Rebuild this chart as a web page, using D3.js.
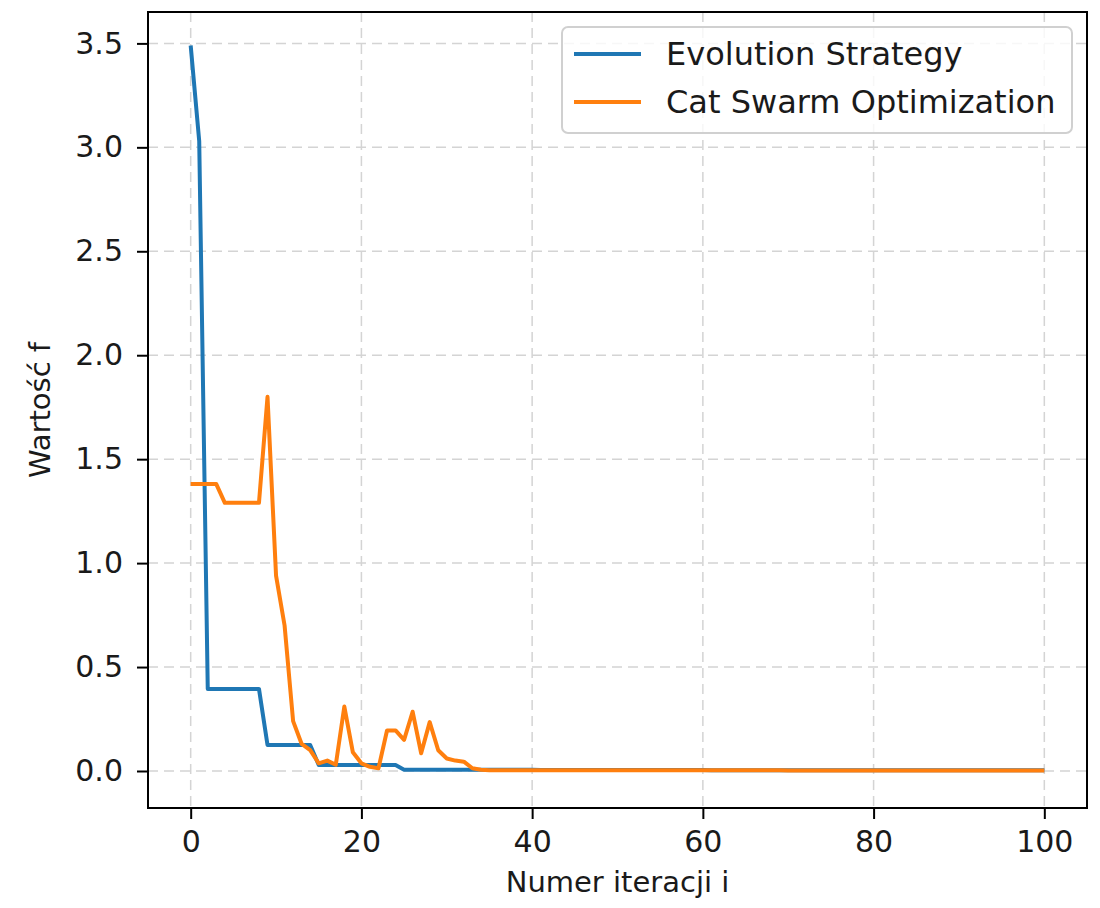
<!DOCTYPE html>
<html lang="pl">
  <head>
    <meta charset="utf-8">
    <script src="https://d3js.org/d3.v7.min.js"></script>
    <style>
body { margin: 0; background: #fff; }
text { font-family: "DejaVu Sans", sans-serif; fill: #1a1a1a; }
.grid line { stroke: #d4d4d4; stroke-width: 1.5px; stroke-dasharray: 10 6; }
.axis path { display: none; }
.axis line { stroke: #000; stroke-width: 2px; }
    </style>
    <title>Wartość f</title>
  </head>
  <body>
    <script>
// values
var esValues = [
  3.49, 3.03, 0.395, 0.395, 0.395, 0.395, 0.395, 0.395, 0.395, 0.125,
  0.125, 0.125, 0.125, 0.125, 0.125, 0.029, 0.029, 0.029, 0.029, 0.029,
  0.029, 0.029, 0.029, 0.029, 0.029, 0.006, 0.006, 0.006, 0.006, 0.006,
  0.006, 0.006, 0.006, 0.006, 0.006, 0.006, 0.006, 0.006, 0.006, 0.006,
  0.006, 0.005, 0.005, 0.005, 0.005, 0.005, 0.005, 0.005, 0.005, 0.005,
  0.005, 0.005, 0.005, 0.005, 0.005, 0.005, 0.005, 0.005, 0.005, 0.005,
  0.005, 0.003, 0.003, 0.003, 0.003, 0.003, 0.003, 0.003, 0.003, 0.003,
  0.003, 0.003, 0.003, 0.003, 0.003, 0.003, 0.003, 0.003, 0.003, 0.003,
  0.003, 0.003, 0.003, 0.003, 0.003, 0.003, 0.003, 0.003, 0.003, 0.003,
  0.003, 0.003, 0.003, 0.003, 0.003, 0.003, 0.003, 0.003, 0.003, 0.003,
  0.003
];
var csoValues = [
  1.38, 1.38, 1.38, 1.38, 1.29, 1.29, 1.29, 1.29, 1.29, 1.80,
  0.94, 0.70, 0.24, 0.13, 0.10, 0.037, 0.05, 0.03, 0.31, 0.09,
  0.037, 0.02, 0.013, 0.195, 0.195, 0.15, 0.285, 0.085, 0.235, 0.10,
  0.06, 0.05, 0.045, 0.013, 0.006, 0.004, 0.004, 0.004, 0.004, 0.004,
  0.004, 0.004, 0.004, 0.004, 0.004, 0.004, 0.004, 0.004, 0.004, 0.004,
  0.003, 0.003, 0.003, 0.003, 0.003, 0.003, 0.003, 0.003, 0.003, 0.003,
  0.003, 0.003, 0.003, 0.003, 0.003, 0.003, 0.003, 0.003, 0.003, 0.003,
  0.002, 0.002, 0.002, 0.002, 0.002, 0.002, 0.002, 0.002, 0.002, 0.002,
  0.002, 0.002, 0.002, 0.002, 0.002, 0.002, 0.002, 0.002, 0.002, 0.002,
  0.002, 0.002, 0.002, 0.002, 0.002, 0.002, 0.002, 0.002, 0.002, 0.002,
  0.002
];
var seriesNames = ["Evolution Strategy", "Cat Swarm Optimization"];
var seriesColors = ["#1f77b4", "#ff7f0e"];
var xTicks = [0, 20, 40, 60, 80, 100];
var yTicks = [0.0, 0.5, 1.0, 1.5, 2.0, 2.5, 3.0, 3.5];

var w = 1100, h = 908;
// plot box (note: "top" is a reserved window property, so use a margin object)
var m = {left: 148, right: 1087, top: 12, bottom: 808};

var svg = d3.select("body").append("svg")
    .attr("width", w)
    .attr("height", h);

var x = d3.scaleLinear().domain([-5, 105]).range([m.left, m.right]);
var y = d3.scaleLinear().domain([-0.178, 3.651]).range([m.bottom, m.top]);

// grid
svg.append("g").attr("class", "grid")
   .selectAll("line").data(xTicks).enter().append("line")
   .attr("x1", d => x(d)).attr("x2", d => x(d))
   .attr("y1", m.top).attr("y2", m.bottom);
svg.append("g").attr("class", "grid")
   .selectAll("line").data(yTicks).enter().append("line")
   .attr("x1", m.left).attr("x2", m.right)
   .attr("y1", d => y(d)).attr("y2", d => y(d));

// lines
var line = d3.line()
    .x((d, i) => x(i))
    .y(d => y(d));

[esValues, csoValues].forEach(function(vals, k) {
  svg.append("path")
     .datum(vals)
     .attr("fill", "none")
     .attr("stroke", seriesColors[k])
     .attr("stroke-width", 4)
     .attr("stroke-linejoin", "round")
     .attr("d", line);
});

// frame
svg.append("rect")
   .attr("x", m.left).attr("y", m.top)
   .attr("width", m.right - m.left).attr("height", m.bottom - m.top)
   .attr("fill", "none").attr("stroke", "#000").attr("stroke-width", 2);

// axes
var xAxis = svg.append("g").attr("class", "axis")
   .attr("transform", "translate(0," + m.bottom + ")")
   .call(d3.axisBottom(x).tickValues(xTicks).tickSize(11).tickPadding(12)
         .tickFormat(d3.format("d")));
xAxis.selectAll("text").style("font-size", "30px");

var yAxis = svg.append("g").attr("class", "axis")
   .attr("transform", "translate(" + m.left + ",0)")
   .call(d3.axisLeft(y).tickValues(yTicks).tickSize(11).tickPadding(14)
         .tickFormat(d3.format(".1f")));
yAxis.selectAll("text").style("font-size", "30px");

// axis labels
svg.append("text")
   .attr("x", (m.left + m.right) / 2).attr("y", 892)
   .attr("text-anchor", "middle")
   .style("font-size", "29px")
   .text("Numer iteracji i");

svg.append("text")
   .attr("transform", "translate(50," + ((m.top + m.bottom) / 2) + ") rotate(-90)")
   .attr("text-anchor", "middle")
   .style("font-size", "29px")
   .text("Wartość f");

// legend
var legend = svg.append("g");
legend.append("rect")
   .attr("x", 562).attr("y", 27)
   .attr("width", 510).attr("height", 106)
   .attr("rx", 6)
   .attr("fill", "#fff").attr("fill-opacity", 0.8)
   .attr("stroke", "#d0d0d0").attr("stroke-width", 2);

seriesNames.forEach(function(name, k) {
  var ly = 54 + k * 48;
  legend.append("line")
     .attr("x1", 574).attr("x2", 641)
     .attr("y1", ly).attr("y2", ly)
     .attr("stroke", seriesColors[k]).attr("stroke-width", 4);
  legend.append("text")
     .attr("x", 666).attr("y", ly + 11)
     .style("font-size", "32px")
     .text(name);
});
    </script>
  </body>
</html>
